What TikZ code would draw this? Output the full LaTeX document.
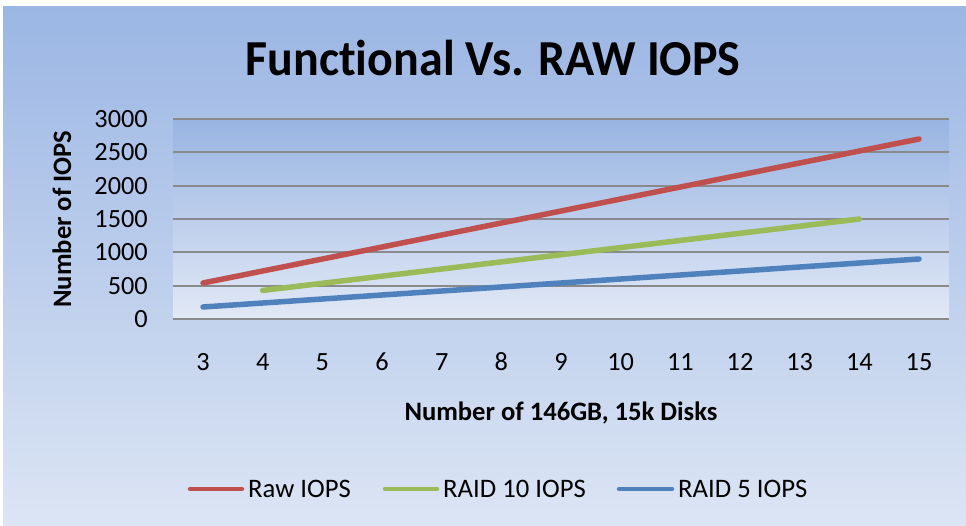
\documentclass[tikz,border=0pt]{standalone}
\usepackage{fontspec}
\setmainfont{Carlito}[Ligatures=NoCommon]
\definecolor{bgtop}{HTML}{9BB6E4}
\definecolor{bgbot}{HTML}{DCE5F4}
\definecolor{pltop}{HTML}{98B4E2}
\definecolor{plbot}{HTML}{E2E9F6}
\definecolor{gridgray}{HTML}{8A8A8A}
\definecolor{rawred}{HTML}{C0504D}
\definecolor{r10green}{HTML}{9BBB59}
\definecolor{r5blue}{HTML}{4F81BD}
\tikzset{
  gridline/.style={draw=gridgray,line width=1.8pt},
  series/.style={line width=5.5pt,line cap=round,line join=round},
  legline/.style={line width=4.5pt,line cap=round},
  ticklabel/.style={font=\fontsize{26.3}{26.3}\selectfont,inner sep=0pt},
  axtitle/.style={font=\bfseries\fontsize{26.6}{26.6}\selectfont,inner sep=0pt},
  legtext/.style={font=\fontsize{26.7}{26.7}\selectfont,inner sep=0pt,anchor=west}
}
% category position and value position in pixel units (y grows downward)
\newcommand{\cx}[1]{203+(#1-3)*59.67}
\newcommand{\vy}[1]{319-(#1)/15}
\begin{document}
\begin{tikzpicture}[x=1pt,y=-1pt]
\useasboundingbox (0,0) rectangle (966,525);
% chart and plot area backgrounds
\shade[top color=bgtop,bottom color=bgbot] (3,6) rectangle (966,525);
\shade[top color=pltop,bottom color=plbot] (173,119) rectangle (949,319);
% horizontal gridlines and value labels
\foreach \v in {0,500,...,3000}{
  \draw[gridline] (173,{\vy{\v}}) -- (949,{\vy{\v}});
  \node[ticklabel,anchor=east] (ylab\v) at (148,{\vy{\v}}) {\v};
}
% category labels
\foreach \n in {3,...,15}{
  \node[ticklabel] (xlab\n) at ({\cx{\n}},362) {\n};
}
% title and axis titles
\node[font=\bfseries\fontsize{48}{48}\selectfont,inner sep=0pt,yscale=1.05] (title) at (493,58) {Functional Vs. RAW IOPS};
\node[axtitle,rotate=90] (ytitle) at (62,219) {Number of IOPS};
\node[axtitle] (xtitle) at (561,413) {Number of 146GB, 15k Disks};
% data series
\draw[series,rawred] plot[samples at={3,...,15}] ({\cx{\x}},{\vy{180*\x}});
\draw[series,r10green] plot[samples at={4,...,14}] ({\cx{\x}},{\vy{107.14*\x}});
\draw[series,r5blue] plot[samples at={3,...,15}] ({\cx{\x}},{\vy{60*\x}});
% legend
\coordinate (lr1) at (190,489); \coordinate (lr2) at (242,489);
\coordinate (lg1) at (385,489); \coordinate (lg2) at (437,489);
\coordinate (lb1) at (619,489); \coordinate (lb2) at (672,489);
\draw[legline,rawred] (lr1) -- (lr2);
\draw[legline,r10green] (lg1) -- (lg2);
\draw[legline,r5blue] (lb1) -- (lb2);
\node[legtext] (legraw) at (248,489) {Raw IOPS};
\node[legtext] (leg10) at (443,489) {RAID 10 IOPS};
\node[legtext] (leg5) at (678,489) {RAID 5 IOPS};
\end{tikzpicture}
\end{document}
